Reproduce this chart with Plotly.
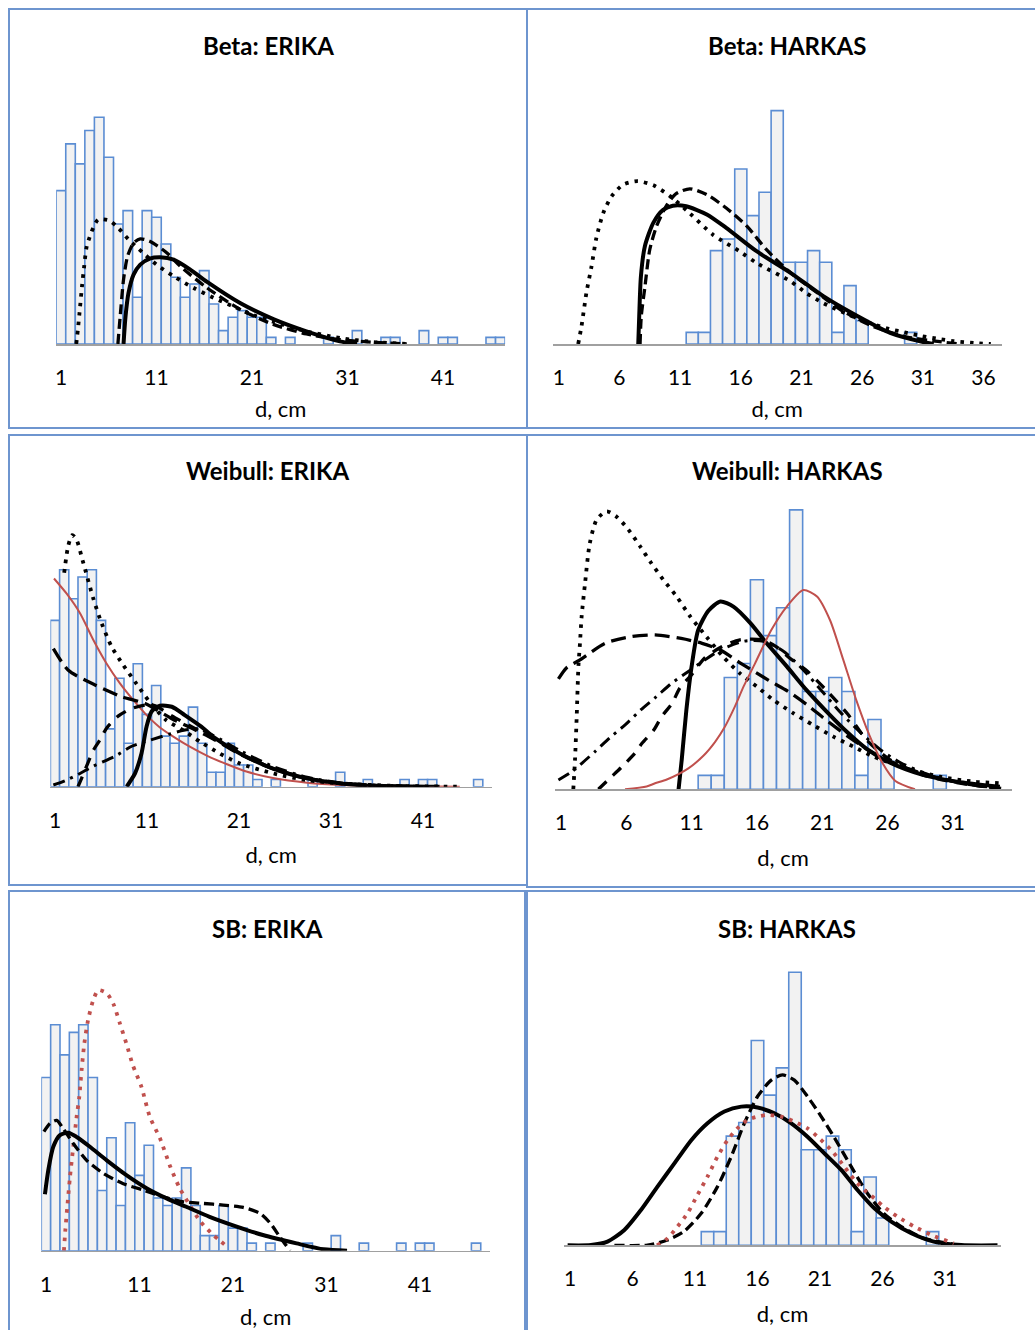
import plotly.graph_objects as go

W, H = 1035, 1330

# ---------------- data ----------------
# histogram counts per 1-cm diameter class (class 1, 2, 3, ...)
ERIKA_BETA_COUNTS = [23, 30, 27, 32, 34, 28, 18, 20, 7, 20, 19, 15, 10, 7, 9, 11, 6, 2, 4, 5,
                     4, 4, 1, 0, 1, 0, 0, 0, 1, 0, 0, 2, 0, 0, 1, 1, 0, 0, 2, 0,
                     1, 1, 0, 0, 0, 1, 1]
ERIKA_COUNTS = [23, 30, 26, 29, 30, 23, 8, 15, 6, 17, 10, 14, 7, 6, 7, 11, 6, 2, 2, 6,
                3, 3, 1, 0, 1, 0, 0, 0, 1, 0, 0, 2, 0, 0, 1, 0, 0, 0, 1, 0,
                1, 1, 0, 0, 0, 0, 1, 0]
HARKAS_COUNTS = [0, 0, 0, 0, 0, 0, 0, 0, 0, 0, 0, 1, 1, 8, 9, 15, 11, 13, 20, 7,
                 7, 8, 7, 1, 5, 2, 0, 0, 0, 1, 0, 0, 0, 0, 0]

TICKS_ERIKA = [1, 11, 21, 31, 41]
TICKS_HARKAS_BETA = [1, 6, 11, 16, 21, 26, 31, 36]
TICKS_HARKAS = [1, 6, 11, 16, 21, 26, 31]

TITLES = ["Beta: ERIKA", "Beta: HARKAS", "Weibull: ERIKA", "Weibull: HARKAS",
          "SB: ERIKA", "SB: HARKAS"]
X_TITLE = "d, cm"

# ---- fitted curves ----
# Beta: ERIKA
B_E_DOT_X = [2.6, 2.77, 2.94, 3.2, 3.43, 3.7, 4.4, 4.9, 6.0, 7.0, 8.1, 9.6, 11.0, 12.8, 14.9, 17.0, 19.1, 21.2, 23.3, 25.0, 26.7, 30.2, 33.7, 37.2]
B_E_DOT_Y = [0, 2.15, 4.65, 8.65, 11.65, 14.65, 17.5, 18.65, 18.55, 17.4, 15.65, 13.65, 11.9, 10.15, 8.4, 6.9, 5.6, 4.3, 3.3, 2.6, 1.9, 0.9, 0.3, 0]
B_E_DASH_X = [6.96, 7.2, 7.55, 7.97, 8.6, 9.3, 10.3, 12.1, 13.5, 16.3, 19.8, 23.3, 26.7, 30.2, 33.7, 37.2]
B_E_DASH_Y = [0, 4.15, 9.65, 13.15, 15.15, 15.75, 15.4, 13.65, 11.65, 8.4, 5.15, 2.9, 1.5, 0.65, 0.25, 0]
B_E_SOLID_X = [7.55, 7.76, 8.07, 8.6, 9.3, 10.3, 11.4, 12.8, 14.5, 16.3, 19.8, 23.3, 26.7, 30.2, 32.0]
B_E_SOLID_Y = [0, 4.15, 7.65, 10.4, 11.9, 12.8, 13.0, 12.65, 11.2, 9.3, 6.1, 3.7, 1.9, 0.4, 0]

# Beta: HARKAS
B_H_DOT_X = [2.6, 2.87, 3.28, 3.7, 4.1, 4.66, 5.35, 6.3, 7.5, 8.8, 10.2, 11.8, 13.7, 15.9, 17.3, 20.1, 21.4, 22.8, 25.6, 26.9, 28.2, 29.5, 30.8, 32.4, 33.5, 35.2, 36.6]
B_H_DOT_Y = [0, 1.5, 4.4, 6.65, 9.1, 11.2, 12.65, 13.65, 13.95, 13.6, 12.65, 11.2, 9.37, 7.94, 6.94, 5.37, 4.37, 3.5, 2.2, 1.7, 1.3, 1.0, 0.7, 0.42, 0.25, 0.09, 0]
B_H_DASH_X = [7.7, 7.8, 8.1, 8.5, 9.06, 9.9, 10.7, 11.8, 13.2, 14.8, 16.5, 18.1, 20.1, 22.3, 24.2, 26.9, 29.7, 32.0, 34.0]
B_H_DASH_Y = [0, 2.4, 4.9, 8.1, 10.1, 11.9, 12.9, 13.3, 12.8, 11.65, 10.1, 8.1, 6.1, 4.4, 2.95, 1.5, 0.6, 0.25, 0]
B_H_SOLID_X = [7.55, 7.63, 7.77, 8.1, 8.8, 9.6, 10.4, 11.5, 13.2, 14.8, 17.3, 20.1, 22.8, 25.6, 28.3, 31.1, 31.9]
B_H_SOLID_Y = [0, 2.4, 5.8, 8.4, 10.4, 11.5, 11.85, 11.8, 11.1, 9.95, 7.95, 6.1, 4.1, 2.4, 0.95, 0.15, 0]

# Weibull: ERIKA
W_E_DOT_X = [2.0, 2.45, 2.88, 3.36, 4.0, 5.17, 6.07, 7.16, 8.43, 9.88, 11.3, 13.1, 14.95, 16.8, 18.9, 21.1, 24.7, 28.4, 32.0, 37.4, 45.0]
W_E_DOT_Y = [29.6, 33.4, 34.8, 34.1, 31.3, 26.0, 22.6, 19.35, 16.8, 14.2, 11.7, 9.2, 7.8, 6.2, 4.6, 3.2, 1.85, 0.9, 0.46, 0.14, 0]
W_E_RED_X = [0.89, 2.27, 3.72, 5.17, 6.6, 8.06, 9.5, 10.96, 12.4, 13.9, 15.7, 17.5, 19.7, 21.8, 24.7, 28.4, 32.0, 37.4, 45.0]
W_E_RED_Y = [28.8, 26.7, 24.0, 20.3, 17.05, 14.3, 12.0, 9.9, 8.2, 6.9, 5.5, 4.3, 3.1, 2.1, 1.2, 0.55, 0.23, 0.1, 0]
W_E_LDASH_X = [0.82, 2.45, 5.35, 8.25, 10.8, 13.7, 16.0, 18.2, 21.1, 24.7, 28.4, 32.0, 36.0, 42.0]
W_E_LDASH_Y = [19.1, 16.1, 14.07, 12.45, 11.5, 9.4, 8.0, 6.6, 4.5, 2.5, 1.2, 0.5, 0.18, 0]
W_E_DASH_X = [3.5, 3.9, 5.2, 5.9, 6.6, 7.9, 9.3, 10.8, 11.9, 13.7, 16.0, 18.2, 21.1, 24.7, 28.4, 32.0, 36.0, 41.0]
W_E_DASH_Y = [0, 1.2, 5.1, 6.5, 8.1, 9.8, 10.8, 11.3, 11.2, 9.8, 8.2, 6.7, 4.6, 2.5, 1.1, 0.45, 0.12, 0]
W_E_DDOT_X = [0.82, 2.1, 3.5, 5.2, 7.45, 9.4, 11.4, 13.5, 15.0, 16.5, 18.2, 21.1, 24.7, 28.4, 32.0, 36.0, 42.0]
W_E_DDOT_Y = [0.23, 0.83, 1.7, 2.86, 4.15, 5.63, 6.46, 7.29, 7.8, 8.0, 7.1, 5.0, 2.8, 1.3, 0.55, 0.2, 0]
W_E_SOLID_X = [8.8, 9.2, 9.7, 10.4, 10.95, 11.5, 12.4, 13.7, 15.1, 16.9, 18.2, 21.1, 24.7, 28.4, 32.0, 35.6, 42.8]
W_E_SOLID_Y = [0, 0.8, 1.85, 4.6, 8.3, 10.4, 11.2, 11.06, 9.9, 8.3, 6.9, 4.6, 2.5, 1.15, 0.46, 0.1, 0]

# Weibull: HARKAS
W_H_DOT_X = [1.94, 2.07, 2.2, 2.33, 2.45, 2.58, 2.84, 3.2, 3.73, 4.5, 5.27, 6.15, 7.05, 7.9, 8.83, 9.85, 10.87, 12.15, 13.4, 14.7, 16.0, 17.25, 18.8, 20.3, 21.85, 23.4, 24.9, 27.5, 30.0, 32.6, 34.7]
W_H_DOT_Y = [0, 2.1, 5.2, 8.8, 10.45, 12.4, 14.75, 17.6, 19.3, 19.9, 19.5, 18.6, 17.4, 16.2, 15.0, 13.8, 12.4, 10.9, 9.5, 8.3, 7.35, 6.4, 5.44, 4.6, 3.77, 3.05, 2.34, 1.5, 0.9, 0.55, 0.43]
W_H_LDASH_X = [0.8, 1.43, 2.45, 4.37, 6.4, 8.2, 10.2, 11.8, 13.2, 14.8, 16.9, 18.4, 19.9, 21.1, 23.1, 24.9, 27.5, 30.0, 32.6, 34.7]
W_H_LDASH_Y = [7.9, 8.7, 9.26, 10.45, 10.93, 11.05, 10.8, 10.45, 9.97, 9.0, 7.8, 7.0, 6.0, 5.1, 3.7, 2.6, 1.5, 0.79, 0.3, 0.07]
W_H_DDOT_X = [0.8, 1.82, 3.6, 4.75, 5.95, 7.1, 8.3, 9.4, 11.0, 13.2, 15.0, 16.5, 18.0, 19.5, 21.0, 22.5, 24.0, 25.5, 27.0, 29.0, 31.0, 33.0, 34.5]
W_H_DDOT_Y = [0.67, 1.26, 2.7, 3.7, 4.65, 5.68, 6.63, 7.54, 8.6, 9.97, 10.6, 10.6, 9.9, 8.6, 7.0, 5.4, 4.0, 2.8, 1.9, 1.1, 0.55, 0.25, 0.1]
W_H_DASH_X = [3.86, 4.75, 5.65, 6.67, 7.2, 8.1, 8.7, 9.5, 10.1, 11.0, 12.0, 13.3, 14.7, 16.4, 17.5, 18.5, 19.8, 21.3, 22.9, 24.4, 26.2, 28.7, 31.3, 33.0, 34.5]
W_H_DASH_Y = [0, 0.8, 1.6, 2.6, 3.3, 4.24, 5.2, 6.15, 7.25, 8.2, 9.4, 10.2, 10.7, 10.7, 10.2, 9.4, 8.5, 7.1, 5.44, 3.53, 2.1, 1.03, 0.48, 0.25, 0.1]
W_H_SOLID_X = [10.0, 10.24, 10.6, 11.0, 11.5, 12.3, 13.2, 14.2, 15.5, 16.75, 18.3, 19.8, 21.3, 22.9, 24.4, 26.2, 28.7, 31.3, 34.6]
W_H_SOLID_Y = [0, 2.1, 5.7, 8.8, 11.4, 12.8, 13.44, 13.08, 11.9, 10.45, 8.78, 7.1, 5.6, 4.1, 2.9, 1.9, 1.03, 0.55, 0.19]
W_H_RED_X = [5.9, 7.55, 8.2, 9.1, 10.75, 11.9, 12.8, 13.5, 14.3, 15.0, 15.85, 17.1, 18.3, 19.55, 20.6, 21.6, 22.6, 23.6, 24.6, 25.6, 26.6, 28.1]
W_H_RED_Y = [0, 0.2, 0.43, 0.7, 1.5, 2.4, 3.4, 4.4, 5.9, 7.4, 9.0, 11.4, 13.1, 14.27, 13.8, 12.1, 9.3, 6.4, 3.9, 1.9, 0.6, 0]

# SB: ERIKA
S_E_RDOT_X = [2.92, 3.07, 3.28, 3.57, 3.92, 4.28, 4.56, 4.81, 5.1, 5.5, 6.06, 6.6, 7.49, 8.2, 8.9, 9.6, 10.3, 11.2, 12.1, 13.2, 14.3, 15.3, 16.4, 17.5, 18.7, 19.6, 20.6]
S_E_RDOT_Y = [0, 2.74, 5.84, 9.8, 13.8, 17.8, 20.4, 24.0, 27.5, 30.6, 33.3, 34.6, 34.2, 32.8, 30.2, 27.5, 24.6, 21.8, 17.8, 14.9, 11.15, 8.3, 6.0, 3.9, 2.3, 1.33, 0.31]
S_E_SOLID_X = [0.89, 1.25, 1.78, 2.5, 3.39, 4.28, 5.7, 7.5, 9.6, 11.8, 13.9, 16.0, 18.5, 21.4, 24.2, 27.8, 30.7, 33.2]
S_E_SOLID_Y = [7.5, 10.7, 13.8, 15.35, 15.66, 15.1, 13.8, 12.0, 10.04, 8.27, 6.95, 5.84, 4.5, 3.2, 2.08, 0.97, 0.18, 0]
S_E_DASH_X = [0.78, 1.43, 2.14, 2.85, 3.92, 5.35, 7.13, 9.27, 11.4, 13.5, 15.7, 17.8, 19.96, 22.1, 23.9, 25.0, 26.0, 27.1]
S_E_DASH_Y = [15.8, 16.9, 17.3, 16.2, 14.25, 12.0, 10.27, 8.9, 8.05, 7.17, 6.5, 6.28, 6.06, 5.75, 4.96, 3.63, 1.86, 0]

# SB: HARKAS
S_H_SOLID_X = [0.81, 2.68, 4.0, 5.35, 6.68, 8.0, 9.35, 10.7, 12.0, 13.35, 14.7, 16.0, 17.35, 18.7, 20.0, 21.35, 22.7, 24.0, 25.35, 26.7, 28.3, 30.1, 32.3, 35.2]
S_H_SOLID_Y = [0, 0.02, 0.27, 1.12, 2.59, 4.3, 6.0, 7.7, 8.94, 9.8, 10.16, 10.1, 9.67, 8.94, 7.96, 6.74, 5.52, 4.05, 2.71, 1.73, 0.88, 0.27, 0.02, 0]
S_H_DASH_X = [4.55, 7.2, 8.8, 10.1, 11.5, 12.8, 13.9, 14.95, 16.0, 17.1, 18.0, 18.95, 20.0, 21.1, 22.1, 23.5, 24.8, 26.1, 27.5, 29.3, 31.5, 32.0]
S_H_DASH_Y = [0, 0.02, 0.39, 1.0, 2.34, 4.3, 6.5, 8.94, 10.9, 12.1, 12.48, 12.1, 10.9, 9.43, 7.96, 5.76, 3.8, 2.34, 1.37, 0.51, 0.1, 0]
S_H_RDOT_X = [7.96, 8.8, 9.6, 10.4, 11.2, 12.0, 12.8, 13.6, 14.4, 15.2, 16.0, 16.8, 17.9, 18.95, 20.0, 20.8, 21.9, 22.95, 23.75, 24.55, 25.35, 26.1, 27.2, 28.55, 30.1, 31.7]
S_H_RDOT_Y = [0, 0.51, 1.37, 2.34, 3.69, 5.03, 6.5, 7.7, 8.57, 9.18, 9.43, 9.55, 9.43, 9.06, 8.57, 7.96, 6.98, 5.76, 4.79, 4.05, 3.44, 2.83, 2.1, 1.37, 0.68, 0.15]

# ---------------- styles ----------------
BLACK = "#000000"
RED = "#C0504D"
STYLES = {
    "solid": dict(color=BLACK, width=4.0, dash="solid"),
    "dot": dict(color=BLACK, width=3.8, dash="3.5px,6px"),
    "dash": dict(color=BLACK, width=3.3, dash="10px,5px"),
    "longdash": dict(color=BLACK, width=3.3, dash="15px,7px"),
    "meddash": dict(color=BLACK, width=3.3, dash="11px,9px"),
    "dashdot": dict(color=BLACK, width=3.0, dash="12px,6px,3px,6px"),
    "red": dict(color=RED, width=2.0, dash="solid"),
    "reddot": dict(color=RED, width=3.8, dash="3.5px,6px"),
}
BAR_FILL = "#F2F2F2"
BAR_LINE = "#5B8DD3"
FRAME = "#6E95CF"
AXIS_GREY = "#A0A0A0"
FONT = "Lato, Carlito, 'Liberation Sans', sans-serif"
TICK_SIZE = 21
XTITLE_SIZE = 22
TITLE_SIZE = 24

# panel layout in pixels: (left, right, baseline), x range, y max, px per count, title standoff
PANELS = [
    dict(box=(56.2, 505.1, 344.0), xr=(0.5, 47.5), ymax=38, unit=6.67, ticks=TICKS_ERIKA,
         standoff=14, counts=ERIKA_BETA_COUNTS,
         curves=[(B_E_DOT_X, B_E_DOT_Y, "dot"), (B_E_DASH_X, B_E_DASH_Y, "dash"),
                 (B_E_SOLID_X, B_E_SOLID_Y, "solid")]),
    dict(box=(552.7, 1001.7, 344.0), xr=(0.5, 37.5), ymax=22, unit=11.67, ticks=TICKS_HARKAS_BETA,
         standoff=14, counts=HARKAS_COUNTS,
         curves=[(B_H_DOT_X, B_H_DOT_Y, "dot"), (B_H_DASH_X, B_H_DASH_Y, "dash"),
                 (B_H_SOLID_X, B_H_SOLID_Y, "solid")]),
    dict(box=(50.4, 492.0, 786.7), xr=(0.5, 48.5), ymax=37, unit=7.23, ticks=TICKS_ERIKA,
         standoff=17, counts=ERIKA_COUNTS,
         curves=[(W_E_RED_X, W_E_RED_Y, "red"), (W_E_DOT_X, W_E_DOT_Y, "dot"),
                 (W_E_LDASH_X, W_E_LDASH_Y, "longdash"), (W_E_DASH_X, W_E_DASH_Y, "meddash"),
                 (W_E_DDOT_X, W_E_DDOT_Y, "dashdot"), (W_E_SOLID_X, W_E_SOLID_Y, "solid")]),
    dict(box=(554.5, 1011.6, 789.3), xr=(0.5, 35.5), ymax=21, unit=13.97, ticks=TICKS_HARKAS,
         standoff=17, counts=HARKAS_COUNTS,
         curves=[(W_H_DOT_X, W_H_DOT_Y, "dot"), (W_H_LDASH_X, W_H_LDASH_Y, "longdash"),
                 (W_H_DDOT_X, W_H_DDOT_Y, "dashdot"), (W_H_DASH_X, W_H_DASH_Y, "meddash"),
                 (W_H_SOLID_X, W_H_SOLID_Y, "solid"), (W_H_RED_X, W_H_RED_Y, "red")]),
    dict(box=(41.3, 490.1, 1250.7), xr=(0.5, 48.5), ymax=37, unit=7.53, ticks=TICKS_ERIKA,
         standoff=17, counts=ERIKA_COUNTS,
         curves=[(S_E_RDOT_X, S_E_RDOT_Y, "reddot"), (S_E_DASH_X, S_E_DASH_Y, "dash"),
                 (S_E_SOLID_X, S_E_SOLID_Y, "solid")]),
    dict(box=(563.75, 1001.25, 1245.3), xr=(0.5, 35.5), ymax=21, unit=13.65, ticks=TICKS_HARKAS,
         standoff=17, counts=HARKAS_COUNTS,
         curves=[(S_H_SOLID_X, S_H_SOLID_Y, "solid"), (S_H_DASH_X, S_H_DASH_Y, "dash"),
                 (S_H_RDOT_X, S_H_RDOT_Y, "reddot")]),
]

# frames around each chart (pixels: x0, y0, x1, y1)
FRAMES = [(9, 9, 527, 428), (527, 9, 1050, 428),
          (9, 435, 527, 885), (527, 435, 1050, 887),
          (9, 891, 525, 1345), (527, 891, 1050, 1345)]
TITLE_POS = [(268, 45), (787, 45), (268, 471), (787, 471), (267, 928), (787, 928)]


def px_x(p):
    return p / W


def px_y(p):
    return 1 - p / H


fig = go.Figure()
layout = dict(width=W, height=H, margin=dict(l=0, r=0, t=0, b=0),
              paper_bgcolor="white", plot_bgcolor="rgba(0,0,0,0)",
              showlegend=False, font=dict(family=FONT, color="#000000"),
              shapes=[], annotations=[])

for i, p in enumerate(PANELS, start=1):
    xa = "x" if i == 1 else f"x{i}"
    ya = "y" if i == 1 else f"y{i}"
    left, right, base = p["box"]
    top = base - p["ymax"] * p["unit"]
    cats = list(range(1, len(p["counts"]) + 1))
    bx = [c for c, v in zip(cats, p["counts"]) if v > 0]
    by = [v for v in p["counts"] if v > 0]
    fig.add_trace(go.Bar(x=bx, y=by, width=1.0, xaxis=xa, yaxis=ya,
                         marker=dict(color=BAR_FILL, line=dict(color=BAR_LINE, width=1.6)),
                         hoverinfo="skip"))
    for cx, cy, st in p["curves"]:
        s = STYLES[st]
        fig.add_trace(go.Scatter(x=cx, y=cy, mode="lines", xaxis=xa, yaxis=ya,
                                 line=dict(color=s["color"], width=s["width"], dash=s["dash"],
                                           shape="spline", smoothing=0.7),
                                 hoverinfo="skip"))
    layout["xaxis" if i == 1 else f"xaxis{i}"] = dict(
        domain=[px_x(left), px_x(right)], anchor=ya, range=list(p["xr"]),
        tickmode="array", tickvals=p["ticks"], ticktext=[str(t) for t in p["ticks"]],
        ticks="outside", ticklen=14, tickcolor="rgba(0,0,0,0)",
        tickfont=dict(size=TICK_SIZE, family=FONT, color="#000000"),
        showline=True, linecolor=AXIS_GREY, linewidth=1.6, showgrid=False, zeroline=False,
        title=dict(text=X_TITLE, font=dict(size=XTITLE_SIZE, family=FONT, color="#000000"),
                   standoff=p["standoff"]),
        fixedrange=True)
    layout["yaxis" if i == 1 else f"yaxis{i}"] = dict(
        domain=[px_y(base), px_y(top)], anchor=xa, range=[0, p["ymax"]],
        visible=False, fixedrange=True)

for (x0, y0, x1, y1) in FRAMES:
    layout["shapes"].append(dict(type="rect", xref="paper", yref="paper",
                                 x0=px_x(x0), x1=px_x(x1), y0=px_y(y1), y1=px_y(y0),
                                 line=dict(color=FRAME, width=2), fillcolor="rgba(0,0,0,0)"))

for t, (tx, ty) in zip(TITLES, TITLE_POS):
    layout["annotations"].append(dict(text=f"<b>{t}</b>", x=px_x(tx), y=px_y(ty),
                                      xref="paper", yref="paper", showarrow=False,
                                      xanchor="center", yanchor="middle",
                                      font=dict(size=TITLE_SIZE, family=FONT, color="#000000")))

fig.update_layout(**layout)
fig.write_html("out.html", config={"displayModeBar": False, "staticPlot": True},
               post_script="document.body.style.margin='0';document.body.style.overflow='hidden';")
